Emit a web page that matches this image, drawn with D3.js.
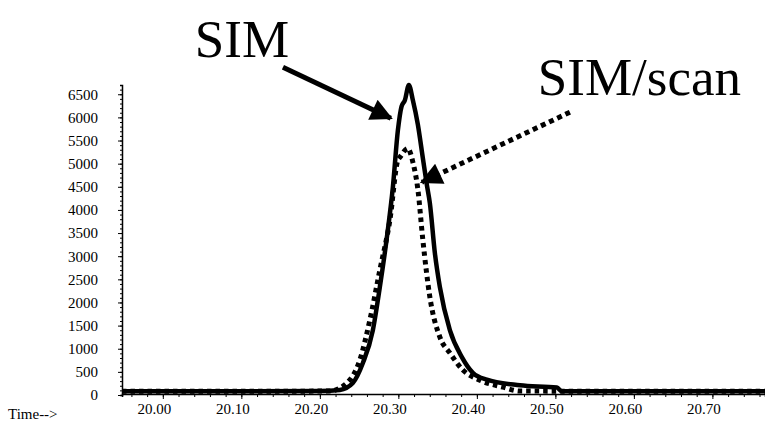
<!DOCTYPE html>
<html>
<head>
<meta charset="utf-8">
<script src="https://cdn.jsdelivr.net/npm/d3@7"></script>
<style>
  body { margin: 0; background: #fff; }
  svg { display: block; }
</style>
</head>
<body>
<script>
'use strict';

// retention time (min) and abundance
var simTime = [19.948, 20.00, 20.10, 20.20, 20.2255, 20.242, 20.2548, 20.2675, 20.2764, 20.2854, 20.293,
  20.2994, 20.3041, 20.3083, 20.3134, 20.3185, 20.3248, 20.3312, 20.3363, 20.3401, 20.3465,
  20.3529, 20.3656, 20.3809, 20.3949, 20.4127, 20.4548, 20.5019, 20.5083, 20.60, 20.70, 20.767];
var simAbund = [80, 80, 80, 85, 110, 260, 690, 1400, 2330, 3410, 4490,
  5720, 6240, 6370, 6700, 6370, 5850, 5120, 4540, 4150, 3070,
  2330, 1400, 820, 480, 330, 210, 160, 80, 80, 80, 80];

var scanTime = [19.948, 20.00, 20.10, 20.2127, 20.2344, 20.251, 20.2637, 20.2764, 20.2892, 20.2994,
  20.302, 20.312, 20.3185, 20.3248, 20.3312, 20.3401, 20.3529, 20.3656, 20.3822, 20.4038,
  20.4331, 20.4548, 20.60, 20.767];
var scanAbund = [80, 80, 80, 86, 260, 760, 1620, 2700, 3780, 5080,
  5140, 5330, 5030, 4450, 3350, 2120, 1250, 910, 540, 320,
  170, 86, 80, 80];

var xTicks = [20.00, 20.10, 20.20, 20.30, 20.40, 20.50, 20.60, 20.70];
var yTicks = [0, 500, 1000, 1500, 2000, 2500, 3000, 3500, 4000, 4500, 5000, 5500, 6000, 6500];

// labels and arrows, in data units
var labelNames = ["SIM", "SIM/scan"];
var labelAt = [[20.0408, 7300], [20.4777, 6480]];
var arrowFrom = [[20.153, 7085], [20.5185, 6112]];
var arrowTo = [[20.2904, 5983], [20.330, 4600]];

var W = 765, H = 421;
var serif = "'Liberation Serif', 'Times New Roman', serif";

var x = d3.scaleLinear().domain([19.948, 20.767]).range([122, 765]);
var y = d3.scaleLinear().domain([0, 6700]).range([395, 85]);

var svg = d3.select("body").append("svg")
  .attr("width", W)
  .attr("height", H);

svg.append("defs").append("marker")
  .attr("id", "head")
  .attr("viewBox", "0 0 10 10")
  .attr("refX", 9).attr("refY", 5)
  .attr("markerUnits", "userSpaceOnUse")
  .attr("markerWidth", 24).attr("markerHeight", 22)
  .attr("orient", "auto")
  .append("path")
  .attr("d", "M0,0 L10,5 L0,10 Z")
  .attr("fill", "#000");

// y axis: minor every 100, majors every 500
var yMinor = d3.axisLeft(y).tickValues(d3.range(0, 6601, 100)).tickSize(2).tickFormat("");
var yAx = svg.append("g").attr("transform", "translate(122,0)").call(yMinor);
yAx.select(".domain").attr("stroke-width", 1.5);
var yMajor = svg.append("g").attr("transform", "translate(122,0)")
  .attr("font-family", serif)
  .call(d3.axisLeft(y).tickValues(yTicks).tickSize(4).tickPadding(20).tickFormat(d3.format("d")));
yMajor.attr("font-family", serif);
yMajor.select(".domain").remove();
yMajor.selectAll("text")
  .attr("font-family", serif).attr("font-size", 15).attr("fill", "#000");

// x axis
var xMinor = d3.axisBottom(x).tickValues(d3.range(19.96, 20.77, 0.02)).tickSize(3).tickFormat("");
svg.append("g").attr("transform", "translate(0,394)").call(xMinor)
  .select(".domain").attr("stroke-width", 1.5);
var xMajor = svg.append("g").attr("transform", "translate(0,394)")
  .call(d3.axisBottom(x).tickValues(xTicks).tickSize(5).tickPadding(4).tickFormat(d3.format(".2f")));
xMajor.attr("font-family", serif);
xMajor.select(".domain").remove();
xMajor.selectAll("text")
  .attr("font-family", serif).attr("font-size", 15).attr("fill", "#000")
  .attr("dx", -9);

svg.append("text")
  .attr("x", 8).attr("y", 419)
  .attr("font-family", serif).attr("font-size", 15)
  .text("Time-->");

var line = d3.line()
  .x(function(d){ return x(d[0]); })
  .y(function(d){ return y(d[1]); })
  .curve(d3.curveMonotoneX);

svg.append("path")
  .datum(d3.zip(scanTime, scanAbund))
  .attr("d", line)
  .attr("fill", "none")
  .attr("stroke", "#000")
  .attr("stroke-width", 5)
  .attr("stroke-dasharray", "4.5,4");

svg.append("path")
  .datum(d3.zip(simTime, simAbund))
  .attr("d", line)
  .attr("fill", "none")
  .attr("stroke", "#000")
  .attr("stroke-width", 4.5)
  .attr("stroke-linejoin", "round");

// annotations
svg.selectAll(".lbl")
  .data(labelNames)
  .enter().append("text")
  .attr("class", "lbl")
  .attr("x", function(d, i){ return x(labelAt[i][0]); })
  .attr("y", function(d, i){ return y(labelAt[i][1]); })
  .attr("font-family", serif)
  .attr("font-size", 53)
  .text(function(d){ return d; });

svg.selectAll(".arr")
  .data(labelNames)
  .enter().append("line")
  .attr("class", "arr")
  .attr("x1", function(d, i){ return x(arrowFrom[i][0]); })
  .attr("y1", function(d, i){ return y(arrowFrom[i][1]); })
  .attr("x2", function(d, i){ return x(arrowTo[i][0]); })
  .attr("y2", function(d, i){ return y(arrowTo[i][1]); })
  .attr("stroke", "#000")
  .attr("stroke-width", 5)
  .attr("stroke-dasharray", function(d, i){ return i === 1 ? "5,4" : null; })
  .attr("marker-end", "url(#head)");
</script>
</body>
</html>
